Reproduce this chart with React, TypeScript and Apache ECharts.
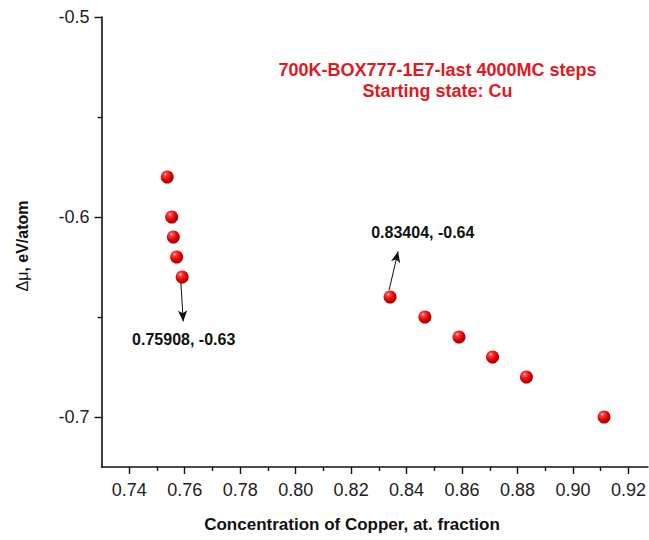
import React, { useEffect, useRef } from "react";
import * as echarts from "echarts";

// Copper concentration (at. fraction) and chemical potential difference (eV/atom)
const concentration: number[] = [
  0.7537, 0.7553, 0.7559, 0.7571, 0.75908,
  0.83404, 0.8466, 0.8589, 0.871, 0.8832, 0.9112,
];
const deltaMu: number[] = [
  -0.58, -0.6, -0.61, -0.62, -0.63,
  -0.64, -0.65, -0.66, -0.67, -0.68, -0.7,
];

const xMajorTicks: number[] = [0.74, 0.76, 0.78, 0.8, 0.82, 0.84, 0.86, 0.88, 0.9, 0.92];
const xMinorTicks: number[] = [0.75, 0.77, 0.79, 0.81, 0.83, 0.85, 0.87, 0.89, 0.91];
const yMajorTicks: number[] = [-0.7, -0.6, -0.5];
const yMinorTicks: number[] = [-0.65, -0.55];

// Annotation arrows: [start, end] in data coordinates
const arrowLeft: number[][] = [[0.75863, -0.6329], [0.75946, -0.6522]];
const arrowRight: number[][] = [[0.83369, -0.6365], [0.83694, -0.6172]];

const titleLines: string[] = ["700K-BOX777-1E7-last 4000MC steps", "Starting state: Cu"];

const FONT = "'Liberation Sans', Arial, sans-serif";

export default function App() {
  const ref = useRef<HTMLDivElement>(null);

  useEffect(() => {
    if (!ref.current) return;
    const chart = echarts.init(ref.current, undefined, { renderer: "svg" });

    const sphere = new echarts.graphic.RadialGradient(0.36, 0.3, 0.7, [
      { offset: 0, color: "#fff0f0" },
      { offset: 0.16, color: "#ff4a4a" },
      { offset: 0.6, color: "#e80000" },
      { offset: 1, color: "#9a0000" },
    ]);

    const xBase = {
      type: "value" as const,
      min: 0.73,
      max: 0.927,
      splitLine: { show: false },
    };
    const yBase = {
      type: "value" as const,
      min: -0.725,
      max: -0.5,
      splitLine: { show: false },
    };

    chart.setOption({
      animation: false,
      backgroundColor: "#ffffff",
      grid: { left: 101.5, top: 17, width: 546.7, height: 450, containLabel: false },
      xAxis: [
        {
          ...xBase,
          axisLine: { show: true, lineStyle: { color: "#111", width: 1.6 } },
          axisTick: { show: true, length: 7, customValues: xMajorTicks, lineStyle: { color: "#111", width: 1.4 } },
          axisLabel: {
            show: true,
            customValues: xMajorTicks,
            margin: 14,
            color: "#222",
            fontSize: 18,
            fontFamily: FONT,
            formatter: (v: number) => v.toFixed(2),
          },
        },
        {
          ...xBase,
          position: "bottom",
          axisLine: { show: false },
          axisTick: { show: true, length: 4, customValues: xMinorTicks, lineStyle: { color: "#111", width: 1.4 } },
          axisLabel: { show: false },
        },
      ],
      yAxis: [
        {
          ...yBase,
          axisLine: { show: true, lineStyle: { color: "#111", width: 1.6 } },
          axisTick: { show: true, length: 7, customValues: yMajorTicks, lineStyle: { color: "#111", width: 1.4 } },
          axisLabel: {
            show: true,
            customValues: yMajorTicks,
            margin: 12,
            color: "#222",
            fontSize: 18,
            fontFamily: FONT,
            formatter: (v: number) => String(Math.round(v * 10) / 10),
          },
        },
        {
          ...yBase,
          position: "left",
          axisLine: { show: false },
          axisTick: { show: true, length: 4, customValues: yMinorTicks, lineStyle: { color: "#111", width: 1.4 } },
          axisLabel: { show: false },
        },
      ],
      series: [
        {
          type: "scatter",
          xAxisIndex: 0,
          yAxisIndex: 0,
          symbol: "circle",
          symbolSize: 13,
          data: concentration.map((c, i) => [c, deltaMu[i]]),
          itemStyle: { color: sphere, opacity: 1 },
          markLine: {
            silent: true,
            symbol: ["none", "arrow"],
            symbolSize: [7, 11],
            label: { show: false },
            lineStyle: { color: "#111", width: 1, type: "solid" },
            data: [
              [{ coord: arrowLeft[0] }, { coord: arrowLeft[1] }],
              [{ coord: arrowRight[0] }, { coord: arrowRight[1] }],
            ],
          },
        },
      ],
      graphic: [
        {
          type: "text",
          x: 437.5,
          y: 69.5,
          style: {
            text: titleLines[0],
            fill: "#e0191e",
            font: `bold 18px ${FONT}`,
            align: "center",
            verticalAlign: "middle",
          },
        },
        {
          type: "text",
          x: 437.5,
          y: 90.5,
          style: {
            text: titleLines[1],
            fill: "#e0191e",
            font: `bold 18px ${FONT}`,
            align: "center",
            verticalAlign: "middle",
          },
        },
        {
          type: "text",
          x: 183.7,
          y: 339.5,
          style: {
            text: "0.75908, -0.63",
            fill: "#111",
            font: `bold 16px ${FONT}`,
            align: "center",
            verticalAlign: "middle",
          },
        },
        {
          type: "text",
          x: 422.8,
          y: 232,
          style: {
            text: "0.83404, -0.64",
            fill: "#111",
            font: `bold 16px ${FONT}`,
            align: "center",
            verticalAlign: "middle",
          },
        },
        {
          type: "text",
          x: 352,
          y: 524,
          style: {
            text: "Concentration of Copper, at. fraction",
            fill: "#111",
            font: `bold 17px ${FONT}`,
            align: "center",
            verticalAlign: "middle",
          },
        },
        {
          type: "text",
          x: 22,
          y: 246,
          rotation: Math.PI / 2,
          style: {
            text: "{a|Δμ}{b|, eV/atom}",
            align: "center",
            verticalAlign: "middle",
            rich: {
              a: { fill: "#111", font: `16px ${FONT}` },
              b: { fill: "#111", font: `bold 16px ${FONT}` },
            },
          },
        },
      ],
    });

    return () => chart.dispose();
  }, []);

  return (
    <div
      ref={ref}
      style={{ position: "fixed", left: 0, top: 0, width: 649, height: 540, background: "#fff" }}
    />
  );
}
